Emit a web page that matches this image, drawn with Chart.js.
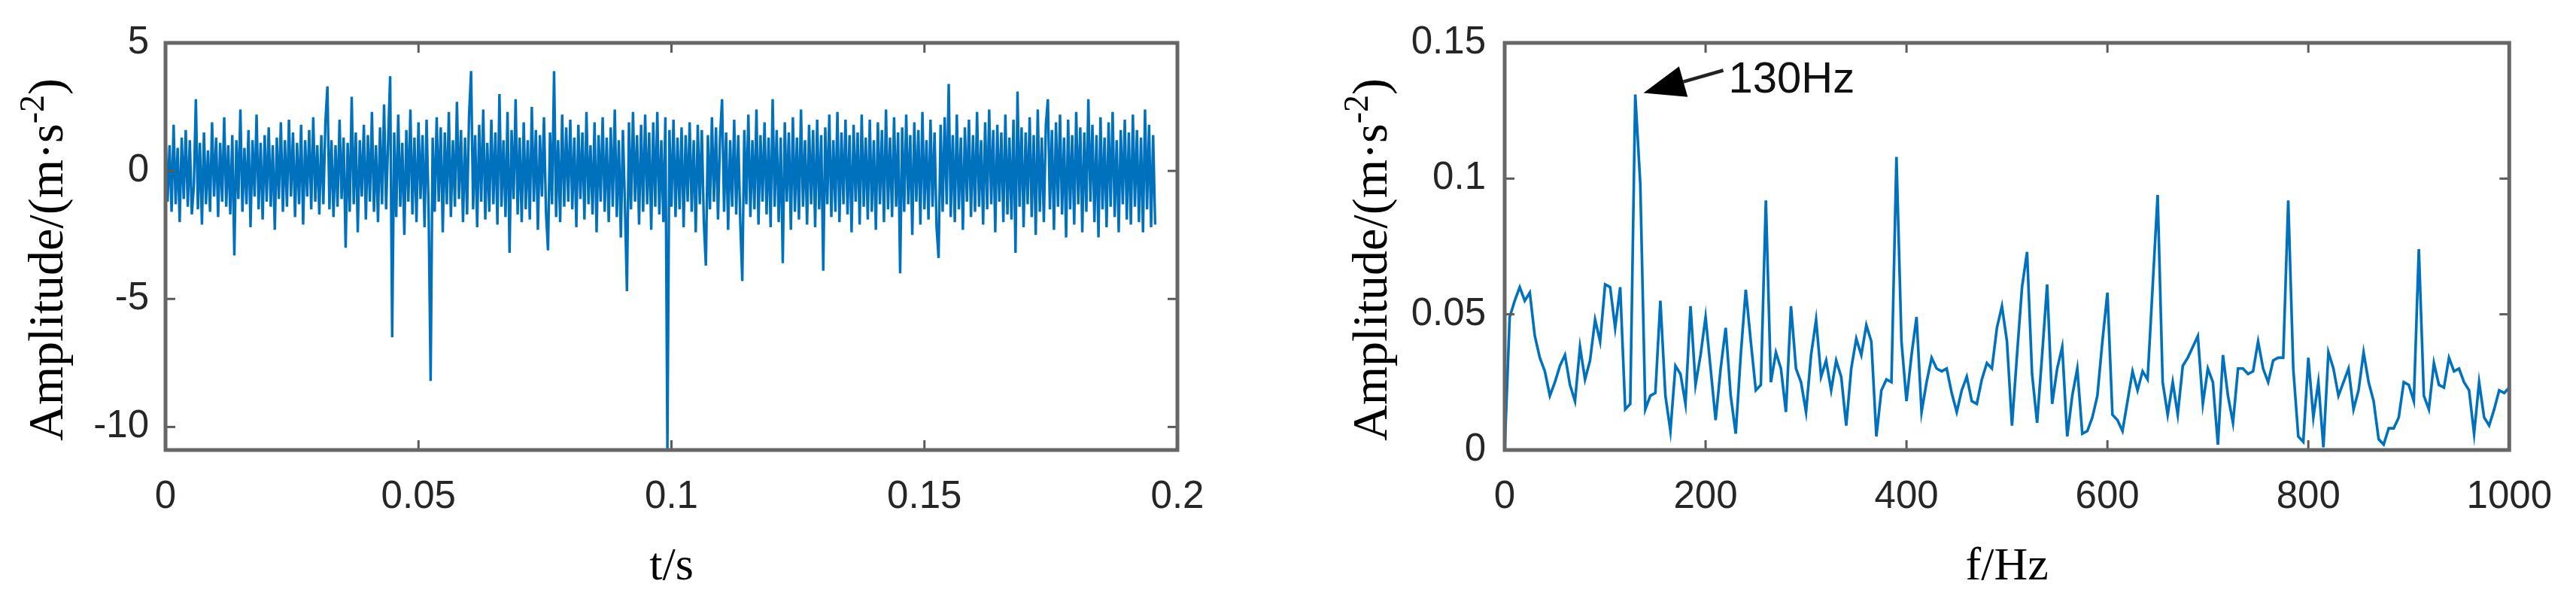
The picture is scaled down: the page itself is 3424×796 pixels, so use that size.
<!DOCTYPE html>
<html><head><meta charset="utf-8">
<script src="https://cdn.jsdelivr.net/npm/chart.js@4.4.0/dist/chart.umd.min.js"></script>
<style>
html,body{margin:0;padding:0;background:#fff;width:3424px;height:796px;overflow:hidden}
.box{position:absolute;top:0;height:796px;width:1712px}
#b1{left:0}
#b2{left:1712px}
canvas{display:block}
</style></head><body>
<div class="box" id="b1"><canvas id="c1" width="1712" height="796"></canvas></div>
<div class="box" id="b2"><canvas id="c2" width="1712" height="796"></canvas></div>
<script>
// ---------- data ----------
const sampleInterval = 0.0004; // s, time step of the acceleration record
const timeAmplitude = [
 1.4,-1.2,1.0,-1.6,1.8,-1.3,0.9,-2.0,1.3,-1.1,1.6,-1.4,1.2,-1.7,-0.6,2.8,-1.5,1.1,-2.1,1.5,
 -1.3,0.8,-1.6,1.9,-1.0,1.3,-1.8,1.1,-1.2,2.1,-1.4,1.0,-1.7,1.4,-3.3,1.2,-1.1,2.4,-1.6,0.9,
 -1.3,1.6,-2.2,1.2,-1.0,2.2,-1.5,1.1,-1.9,1.4,-1.2,1.7,-1.4,1.0,-2.3,1.3,-1.1,1.9,-1.6,1.2,
 -1.4,2.0,-1.0,1.5,-1.8,1.1,-1.3,1.8,-2.1,1.2,-1.0,1.6,-1.5,2.1,-1.2,1.0,-1.7,1.4,-1.3,1.9,
 3.3,-1.5,1.2,-1.8,1.0,-1.4,2.0,-1.1,1.3,-3.0,1.1,-1.6,2.9,-1.3,1.5,-2.4,1.2,-1.0,1.8,-1.9,
 1.4,-1.2,2.3,-1.6,1.0,-2.0,1.7,-1.3,2.6,-1.5,1.2,3.7,-6.5,1.5,-1.8,2.2,-1.4,1.1,-2.5,1.6,
 -1.2,2.4,-1.7,1.3,-2.0,1.9,-1.1,1.4,-2.2,2.0,-1.5,-8.2,1.3,-1.6,2.1,-1.2,1.7,-2.4,1.5,-1.3,
 2.3,-1.8,1.2,-1.4,2.7,-1.1,1.6,-2.0,1.3,-1.7,2.2,3.9,-1.5,1.4,-2.2,1.8,-1.2,2.4,-1.9,1.1,
 -1.6,2.0,-1.3,1.5,-2.1,3.0,-1.4,1.2,-1.8,2.3,-3.2,1.6,-1.1,2.8,-1.7,1.3,-2.0,1.9,-1.5,1.2,
 -1.9,2.5,-1.2,1.6,-2.3,1.4,-1.0,2.1,-1.6,-3.1,1.5,-1.3,3.9,-1.8,1.2,-2.0,2.2,-1.4,1.7,-1.2,
 2.0,-1.5,1.3,-2.2,1.8,-1.1,1.5,-1.9,2.3,-1.3,1.0,-1.7,1.9,-2.4,1.4,-1.2,2.1,-1.6,1.3,-2.0,
 1.7,-1.4,2.4,-1.8,1.2,-2.6,1.6,-1.3,-4.7,1.9,-1.5,2.3,-1.2,1.4,-2.1,1.8,-1.6,2.2,-1.3,1.5,
 -2.3,1.9,-1.4,2.3,-1.7,1.2,-2.0,2.1,-10.9,1.6,-1.4,2.0,-1.8,1.3,-1.5,1.7,-2.2,1.4,-1.2,1.9,
 -1.6,1.2,-2.4,1.8,-1.3,1.6,-2.0,-3.7,1.4,-1.5,2.1,-1.2,1.7,-1.9,1.3,2.8,-1.6,1.5,-2.3,1.2,
 -1.4,2.0,-1.7,1.4,-2.0,-4.3,1.6,-1.3,2.2,-1.8,1.2,-1.5,2.4,-2.1,1.4,-1.2,1.9,-1.7,1.3,-2.2,
 2.8,-1.4,1.6,-2.0,1.3,-3.6,1.9,-1.2,1.5,-2.3,2.1,-1.6,1.3,-1.9,2.4,-1.4,1.2,-2.1,1.8,-1.3,
 1.6,-2.2,2.0,-1.5,1.4,-3.9,1.7,-1.3,2.2,-1.8,1.2,-1.6,2.3,-2.0,1.5,-1.3,2.0,-1.7,1.4,-2.4,
 1.8,-1.2,1.5,-2.1,2.2,-1.4,1.3,-1.9,2.0,-1.6,1.2,-2.3,1.9,-1.3,1.6,-2.0,2.4,-1.5,1.3,-1.8,
 2.1,-1.4,1.5,-4.0,1.7,-1.6,2.2,-1.3,1.4,-2.5,1.9,-1.2,1.6,-2.1,2.3,-1.5,1.2,-1.9,2.0,-1.4,
 1.5,-2.2,-3.4,1.8,-1.6,2.1,-1.3,3.4,-1.8,1.4,-2.0,2.2,-1.5,1.3,-2.3,1.7,-1.2,2.0,-1.8,1.4,
 -1.6,2.3,-1.4,1.2,-2.1,1.9,-1.5,2.4,-1.3,1.6,-2.4,1.8,-1.2,1.5,-2.0,2.2,-1.7,1.3,-1.9,2.0,
 -3.2,3.1,-1.4,1.7,-2.2,1.5,-1.3,2.1,-1.8,1.4,-2.5,2.4,-1.6,1.3,-2.0,1.8,2.8,-1.5,1.6,-2.3,
 1.9,-1.4,2.2,-1.7,1.3,-2.6,2.0,-1.5,1.4,-2.1,2.3,-1.3,1.7,-2.4,1.5,-1.6,2.8,-1.2,1.8,-2.0,
 1.4,-2.6,2.1,-1.5,1.3,-2.2,1.9,-1.4,2.3,-1.8,1.2,-2.4,1.6,-1.3,2.0,-1.9,1.5,-2.1,2.2,-1.4,
 1.6,-2.0,1.3,-2.4,2.4,-1.5,1.8,-2.2,1.4,-2.1
];
const timeTicks = [0, 0.05, 0.1, 0.15, 0.2];
const timeTickLabels = ['0', '0.05', '0.1', '0.15', '0.2'];
const accTicks = [-10, -5, 0, 5];
const accTickLabels = ['-10', '-5', '0', '5'];

const freqStep = 5; // Hz, spectral line spacing
const spectrumAmplitude = [
 0,0.049,0.055,0.060,0.055,0.058,0.042,0.034,0.029,0.020,
 0.025,0.031,0.035,0.024,0.018,0.038,0.026,0.033,0.048,0.040,
 0.061,0.060,0.045,0.060,0.015,0.017,0.131,0.098,0.015,0.020,
 0.021,0.055,0.020,0.007,0.031,0.028,0.017,0.053,0.024,0.035,
 0.049,0.030,0.011,0.030,0.045,0.020,0.006,0.035,0.059,0.040,
 0.022,0.024,0.092,0.025,0.036,0.030,0.014,0.053,0.030,0.025,
 0.014,0.035,0.048,0.027,0.033,0.022,0.033,0.027,0.009,0.030,
 0.041,0.035,0.046,0.040,0.005,0.022,0.026,0.025,0.108,0.040,
 0.018,0.035,0.049,0.014,0.025,0.034,0.030,0.029,0.030,0.021,
 0.014,0.022,0.027,0.018,0.017,0.026,0.032,0.030,0.045,0.053,
 0.040,0.009,0.035,0.060,0.073,0.028,0.010,0.035,0.061,0.017,
 0.030,0.038,0.005,0.020,0.030,0.006,0.007,0.012,0.020,0.040,
 0.058,0.013,0.011,0.007,0.018,0.029,0.022,0.029,0.026,0.060,
 0.094,0.025,0.013,0.025,0.013,0.031,0.034,0.038,0.042,0.017,
 0.030,0.025,0.002,0.035,0.020,0.010,0.030,0.030,0.028,0.029,
 0.040,0.030,0.025,0.033,0.034,0.034,0.092,0.030,0.005,0.003,
 0.034,0.012,0.025,0.001,0.036,0.030,0.020,0.025,0.030,0.015,
 0.022,0.036,0.025,0.018,0.004,0.002,0.008,0.008,0.012,0.025,
 0.024,0.018,0.074,0.020,0.015,0.032,0.024,0.023,0.034,0.029,
 0.030,0.025,0.022,0.006,0.025,0.012,0.009,0.015,0.022,0.021,
 0.023
];
const freqTicks = [0, 200, 400, 600, 800, 1000];
const freqTickLabels = ['0', '200', '400', '600', '800', '1000'];
const specTicks = [0, 0.05, 0.1, 0.15];
const specTickLabels = ['0', '0.05', '0.1', '0.15'];
const peakFreq = 130;
const peakLabel = '130Hz';
const xTitles = ['t/s', 'f/Hz'];
const yTitleParts = ['Amplitude/(m\u00B7s', '-2', ')'];

// ---------- styling ----------
const LINE = '#0072BD';
const TICK_FONT = { family: '"Liberation Sans", Arial, sans-serif', size: 51 };
const TICK_COLOR = '#262626';

const framePlugin = {
  id: 'frame',
  afterDatasetsDraw(chart) {
    const { ctx, chartArea: a, scales: { x, y } } = chart;
    ctx.save();
    ctx.strokeStyle = '#5a5a5a';
    ctx.lineWidth = 3;
    const L = 13;
    const seg = (x1, y1, x2, y2) => { ctx.beginPath(); ctx.moveTo(x1, y1); ctx.lineTo(x2, y2); ctx.stroke(); };
    x.ticks.forEach(t => {
      const p = x.getPixelForValue(t.value);
      if (p < a.left + 3 || p > a.right - 3) return;
      seg(p, a.bottom, p, a.bottom - L); seg(p, a.top, p, a.top + L);
    });
    y.ticks.forEach(t => {
      const p = y.getPixelForValue(t.value);
      if (p < a.top + 3 || p > a.bottom - 3) return;
      seg(a.left, p, a.left + L, p); seg(a.right, p, a.right - L, p);
    });
    ctx.strokeStyle = '#666';
    ctx.lineWidth = 5;
    ctx.strokeRect(a.left, a.top, a.right - a.left, a.bottom - a.top);
    ctx.restore();
  }
};

const titlePlugin = {
  id: 'axisTitles',
  afterDraw(chart, args, o) {
    const { ctx, chartArea: a } = chart;
    ctx.save();
    ctx.fillStyle = '#000';
    const serif = '"Liberation Serif", "Times New Roman", serif';
    ctx.font = o.size + 'px ' + serif;
    ctx.textAlign = 'center';
    ctx.textBaseline = 'alphabetic';
    ctx.fillText(o.xText, (a.left + a.right) / 2, o.xBaseline);
    // rotated y title with superscript
    ctx.translate(o.yBaseline, o.yCenter);
    ctx.rotate(-Math.PI / 2);
    ctx.textAlign = 'left';
    const mainFont = o.ySize + 'px ' + serif, supFont = Math.round(o.ySize * 0.7) + 'px ' + serif;
    ctx.font = mainFont; const w1 = ctx.measureText(yTitleParts[0]).width;
    ctx.font = supFont; const w2 = ctx.measureText(yTitleParts[1]).width;
    ctx.font = mainFont; const w3 = ctx.measureText(yTitleParts[2]).width;
    let sx = -(w1 + w2 + w3) / 2;
    ctx.font = mainFont; ctx.fillText(yTitleParts[0], sx, 0); sx += w1;
    ctx.font = supFont; ctx.fillText(yTitleParts[1], sx, -o.ySize * 0.38); sx += w2;
    ctx.font = mainFont; ctx.fillText(yTitleParts[2], sx, 0);
    ctx.restore();
  }
};

const peakPlugin = {
  id: 'peakNote',
  afterDatasetsDraw(chart, args, o) {
    if (!o || !o.enabled) return;
    const { ctx, scales: { x, y } } = chart;
    const idx = Math.round(peakFreq / freqStep);
    const px = x.getPixelForValue(peakFreq), py = y.getPixelForValue(spectrumAmplitude[idx]);
    const tip = { x: px + 11, y: py - 2 }, tail = { x: px + 117, y: py - 32 };
    const ang = Math.atan2(tip.y - tail.y, tip.x - tail.x);
    const hl = 55, hw = 21;
    const bx = tip.x - hl * Math.cos(ang), by = tip.y - hl * Math.sin(ang);
    ctx.save();
    ctx.strokeStyle = '#222'; ctx.lineWidth = 4.5;
    ctx.beginPath(); ctx.moveTo(tail.x, tail.y); ctx.lineTo(bx, by); ctx.stroke();
    ctx.fillStyle = '#000';
    ctx.beginPath();
    ctx.moveTo(tip.x, tip.y);
    ctx.lineTo(bx + hw * Math.sin(ang), by - hw * Math.cos(ang));
    ctx.lineTo(bx - hw * Math.sin(ang), by + hw * Math.cos(ang));
    ctx.closePath(); ctx.fill();
    ctx.font = '58px "Liberation Sans", Arial, sans-serif';
    ctx.fillStyle = '#111'; ctx.textAlign = 'left'; ctx.textBaseline = 'alphabetic';
    ctx.fillText(peakLabel, px + 124, py - 3);
    ctx.restore();
  }
};

function axis(min, max, tickVals, tickLabels, horizontal, fitSize, pad) {
  return {
    type: 'linear', min, max,
    afterBuildTicks: s => { s.ticks = tickVals.map(v => ({ value: v })); },
    afterFit: s => { if (horizontal) s.height = fitSize; else s.width = fitSize; },
    ticks: { callback: (v, i) => tickLabels[i], font: TICK_FONT, color: TICK_COLOR, padding: pad, autoSkip: false, maxRotation: 0 },
    grid: { display: false, drawTicks: false },
    border: { display: false }
  };
}

function makeChart(id, points, lineWidth, xs, ys, padRight, titles, peak) {
  return new Chart(document.getElementById(id), {
    type: 'line',
    data: { datasets: [{ data: points, borderColor: LINE, borderWidth: lineWidth, pointRadius: 0, tension: 0, fill: false, borderJoinStyle: 'miter' }] },
    options: {
      responsive: false, animation: false, events: [],
      parsing: false, normalized: true,
      layout: { padding: { left: 0, top: 57, right: padRight, bottom: 0 } },
      plugins: { legend: { display: false }, tooltip: { enabled: false }, axisTitles: titles, peakNote: peak },
      scales: { x: xs, y: ys }
    },
    plugins: [framePlugin, titlePlugin, peakPlugin]
  });
}

const timePoints = timeAmplitude.map((v, i) => ({ x: i * sampleInterval, y: v }));
const specPoints = spectrumAmplitude.map((v, i) => ({ x: i * freqStep, y: v }));

makeChart('c1', timePoints, 3.4,
  axis(0, 0.2, timeTicks, timeTickLabels, true, 198, 32),
  axis(-10.9, 5, accTicks, accTickLabels, false, 220, 22),
  147,
  { xText: xTitles[0], size: 62, xBaseline: 770, ySize: 66, yBaseline: 83, yCenter: 345 },
  { enabled: false });

makeChart('c2', specPoints, 3.6,
  axis(0, 1000, freqTicks, freqTickLabels, true, 198, 32),
  axis(0, 0.15, specTicks, specTickLabels, false, 288, 25),
  71,
  { xText: xTitles[1], size: 62, xBaseline: 770, ySize: 66, yBaseline: 131, yCenter: 345 },
  { enabled: true });
</script>
</body></html>
